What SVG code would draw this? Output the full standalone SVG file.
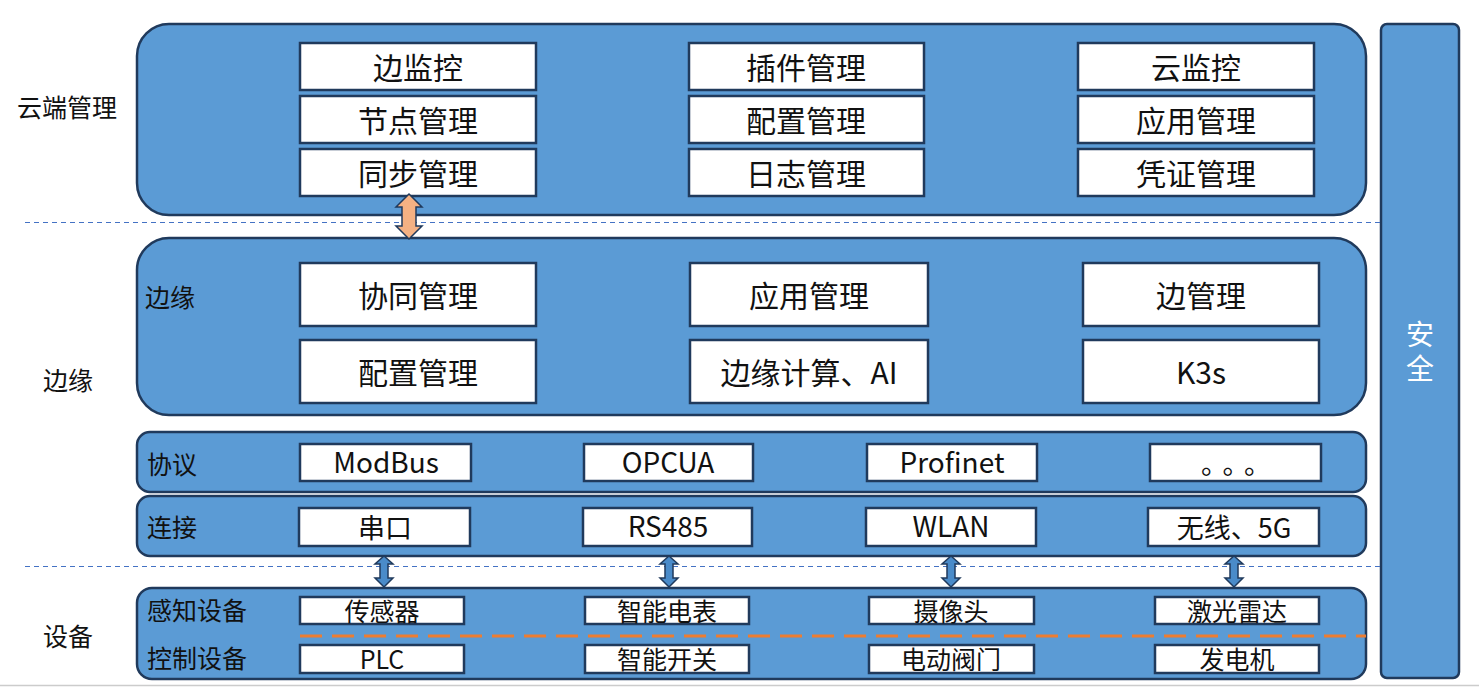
<svg xmlns="http://www.w3.org/2000/svg" width="1479" height="696" viewBox="0 0 1479 696">
<style>
.panel{fill:#5B9BD5;stroke:#203A5C;stroke-width:2.5}
.box{fill:#fff;stroke:#203A5C;stroke-width:2.5}
text{font-family:"Noto Sans CJK SC","Microsoft YaHei",sans-serif;fill:#111}
.t28{font-size:30px;text-anchor:middle;dominant-baseline:central}
.t26{font-size:27px;text-anchor:middle;dominant-baseline:central}
.lat{font-size:28px}
.t24{font-size:25px;text-anchor:middle;dominant-baseline:central}
.lbl{font-size:25px;dominant-baseline:central}
.dash{stroke:#4472C4;stroke-width:1;stroke-dasharray:5 4;fill:none}
.barrow{fill:#4A8BC9;stroke:#203A5C;stroke-width:1.5}
</style>
<rect width="1479" height="696" fill="#fff"/>
<line x1="0" y1="685.5" x2="1479" y2="685.5" stroke="#CCCCCC" stroke-width="1.5"/>
<g id="cloud">
<rect class="panel" x="137" y="24" width="1229" height="191" rx="32"/>
<text class="lbl" x="17" y="106">云端管理</text>
<rect class="box" x="300" y="43" width="236" height="47"/><text class="t28" x="418" y="66">边监控</text>
<rect class="box" x="300" y="96" width="236" height="47"/><text class="t28" x="418" y="119">节点管理</text>
<rect class="box" x="300" y="149" width="236" height="47"/><text class="t28" x="418" y="172">同步管理</text>
<rect class="box" x="689" y="43" width="235" height="47"/><text class="t28" x="806" y="66">插件管理</text>
<rect class="box" x="689" y="96" width="235" height="47"/><text class="t28" x="806" y="119">配置管理</text>
<rect class="box" x="689" y="149" width="235" height="47"/><text class="t28" x="806" y="172">日志管理</text>
<rect class="box" x="1078" y="43" width="236" height="47"/><text class="t28" x="1196" y="66">云监控</text>
<rect class="box" x="1078" y="96" width="236" height="47"/><text class="t28" x="1196" y="119">应用管理</text>
<rect class="box" x="1078" y="149" width="236" height="47"/><text class="t28" x="1196" y="172">凭证管理</text>
</g>
<g id="edge">
<rect class="panel" x="137" y="238" width="1229" height="177" rx="32"/>
<text class="lbl" x="145" y="296">边缘</text>
<text class="lbl" x="43" y="379">边缘</text>
<rect class="box" x="300" y="263" width="236" height="63"/><text class="t28" x="418" y="294">协同管理</text>
<rect class="box" x="300" y="340" width="236" height="63"/><text class="t28" x="418" y="371">配置管理</text>
<rect class="box" x="690" y="263" width="238" height="63"/><text class="t28" x="809" y="294">应用管理</text>
<rect class="box" x="690" y="340" width="238" height="63"/><text class="t28" x="809" y="371">边缘计算、AI</text>
<rect class="box" x="1083" y="263" width="236" height="63"/><text class="t28" x="1201" y="294">边管理</text>
<rect class="box" x="1083" y="340" width="236" height="63"/><text class="t28" x="1201" y="371">K3s</text>
</g>
<g id="protocol">
<rect class="panel" x="137" y="432" width="1229" height="60" rx="13"/>
<text class="lbl" x="147" y="463">协议</text>
<rect class="box" x="300" y="444" width="171" height="37"/><text class="t26 lat" x="386" y="461">ModBus</text>
<rect class="box" x="584" y="444" width="169" height="37"/><text class="t26 lat" x="668" y="461">OPCUA</text>
<rect class="box" x="867" y="444" width="170" height="37"/><text class="t26 lat" x="952" y="461">Profinet</text>
<rect class="box" x="1150" y="444" width="171" height="37"/><text class="t26" x="1240" y="462" letter-spacing="8">。。。</text>
</g>
<g id="connect">
<rect class="panel" x="137" y="496" width="1229" height="60" rx="13"/>
<text class="lbl" x="147" y="526">连接</text>
<rect class="box" x="299" y="508" width="171" height="38"/><text class="t26" x="385" y="526">串口</text>
<rect class="box" x="583" y="508" width="169" height="38"/><text class="t26 lat" x="668" y="525">RS485</text>
<rect class="box" x="866" y="508" width="170" height="38"/><text class="t26 lat" x="951" y="525">WLAN</text>
<rect class="box" x="1148" y="508" width="171" height="38"/><text class="t26" x="1234" y="526">无线、5G</text>
</g>
<g id="devices">
<rect class="panel" x="137" y="588" width="1229" height="91" rx="15"/>
<line x1="300" y1="636" x2="1366" y2="636" stroke="#ED7D31" stroke-width="3" stroke-dasharray="22 10"/>
<text class="lbl" x="43" y="635">设备</text>
<text class="lbl" x="147" y="609">感知设备</text>
<text class="lbl" x="147" y="657">控制设备</text>
<rect class="box" x="300" y="597" width="164" height="27"/><text class="t24" x="382" y="610">传感器</text>
<rect class="box" x="585" y="597" width="164" height="27"/><text class="t24" x="667" y="610">智能电表</text>
<rect class="box" x="869" y="597" width="165" height="27"/><text class="t24" x="951" y="610">摄像头</text>
<rect class="box" x="1155" y="597" width="164" height="27"/><text class="t24" x="1237" y="610">激光雷达</text>
<rect class="box" x="300" y="645" width="164" height="28"/><text class="t24" x="382" y="658">PLC</text>
<rect class="box" x="585" y="645" width="164" height="28"/><text class="t24" x="667" y="658">智能开关</text>
<rect class="box" x="869" y="645" width="165" height="28"/><text class="t24" x="951" y="658">电动阀门</text>
<rect class="box" x="1155" y="645" width="164" height="28"/><text class="t24" x="1237" y="658">发电机</text>
</g>
<g id="security">
<rect class="panel" x="1381" y="24" width="78" height="654" rx="6"/>
<text x="1420" y="320" style="writing-mode:vertical-rl;font-size:28px;letter-spacing:6px;fill:#fff">安全</text>
</g>
<g id="connectors">
<line class="dash" x1="25" y1="222.5" x2="1381" y2="222.5"/>
<line class="dash" x1="25" y1="566.5" x2="1381" y2="566.5"/>
<path d="M409 194 L422 207 L416 207 L416 226 L422 226 L409 239 L396 226 L402 226 L402 207 L396 207 Z" fill="#F4B183" stroke="#203A5C" stroke-width="1.5"/>
<path class="barrow" d="M384 556 L393 564 L388 564 L388 578 L393 578 L384 587 L375 578 L380 578 L380 564 L375 564 Z"/>
<path class="barrow" d="M669 556 L678 564 L673 564 L673 578 L678 578 L669 587 L660 578 L665 578 L665 564 L660 564 Z"/>
<path class="barrow" d="M951 556 L960 564 L955 564 L955 578 L960 578 L951 587 L942 578 L947 578 L947 564 L942 564 Z"/>
<path class="barrow" d="M1234 556 L1243 564 L1238 564 L1238 578 L1243 578 L1234 587 L1225 578 L1230 578 L1230 564 L1225 564 Z"/>
</g>
</svg>
